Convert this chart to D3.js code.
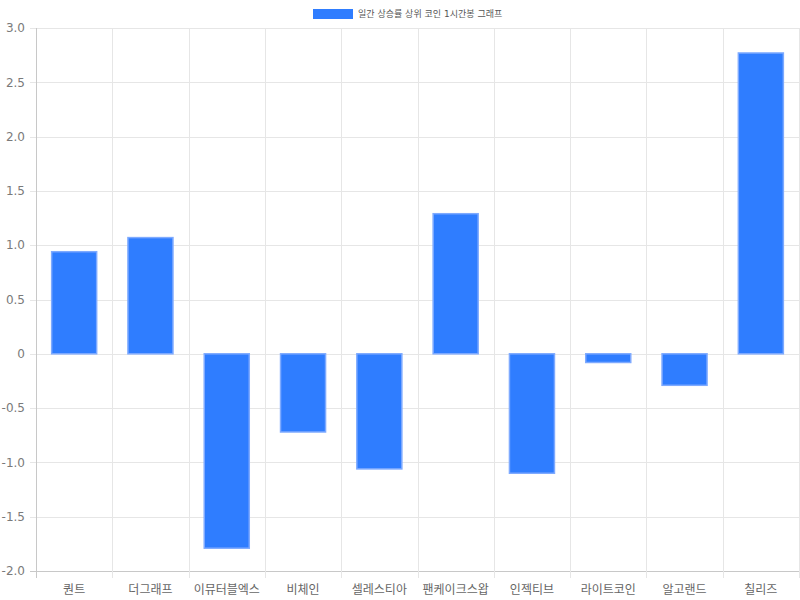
<!DOCTYPE html>
<html lang="ko">
<head>
<meta charset="utf-8">
<script src="https://cdn.jsdelivr.net/npm/d3@7"></script>
<style>
body { margin: 0; background: #fff; }
text { font-family: "DejaVu Sans", "Noto Sans CJK KR", sans-serif; fill: #666; }
</style>
</head>
<body>
<svg id="chart" width="800" height="600"></svg>
<script>
// data
var coins = ["퀀트", "더그래프", "이뮤터블엑스", "비체인", "셀레스티아", "팬케이크스왑", "인젝티브", "라이트코인", "알고랜드", "칠리즈"];
var changes = [0.94, 1.07, -1.79, -0.72, -1.06, 1.29, -1.10, -0.08, -0.29, 2.77];
var yTicks = [-2.0, -1.5, -1.0, -0.5, 0, 0.5, 1.0, 1.5, 2.0, 2.5, 3.0];
var seriesName = "일간 상승률 상위 코인 1시간봉 그래프";

var svg = d3.select("#chart");
var plotLeft = 36, plotRight = 799, plotTop = 28, plotBottom = 571;

var x = d3.scaleBand().domain(coins).range([plotLeft, plotRight]).paddingInner(0).paddingOuter(0);
var y = d3.scaleLinear().domain([-2, 3]).range([plotBottom, plotTop]);

// grid
var grid = svg.append("g");
grid.selectAll("line.h").data(yTicks).enter().append("line")
  .attr("x1", plotLeft - 6).attr("x2", plotRight)
  .attr("y1", function(d) { return Math.round(y(d)) + 0.5; })
  .attr("y2", function(d) { return Math.round(y(d)) + 0.5; })
  .attr("stroke", function(d) { return d === -2 ? "#c8c8c8" : "#e6e6e6"; });

var vx = coins.map(function(c) { return x(c); }).concat([plotRight]);
grid.selectAll("line.v").data(vx).enter().append("line")
  .attr("x1", function(d) { return Math.round(d) + 0.5; })
  .attr("x2", function(d) { return Math.round(d) + 0.5; })
  .attr("y1", plotTop).attr("y2", plotBottom + 7)
  .attr("stroke", function(d, i) { return i === 0 ? "#c8c8c8" : "#e6e6e6"; });

// y labels
svg.append("g").selectAll("text").data(yTicks).enter().append("text")
  .attr("x", 25).attr("y", function(d) { return y(d); })
  .attr("dy", "0.35em").attr("text-anchor", "end")
  .style("font-size", "12px").style("fill", "#7a7a7a")
  .text(function(d) { return d === 0 ? "0" : d3.format(".1f")(d).replace("−", "-"); });

// x labels
svg.append("g").selectAll("text").data(coins).enter().append("text")
  .attr("x", function(d) { return x(d) + x.bandwidth() / 2; })
  .attr("y", 590).attr("dy", "0.35em").attr("text-anchor", "middle")
  .style("font-size", "12px")
  .text(function(d) { return d; });

// bars
var bw = x.bandwidth() * 0.59;
svg.append("g").selectAll("rect").data(changes).enter().append("rect")
  .attr("x", function(d, i) { return x(coins[i]) + (x.bandwidth() - bw) / 2; })
  .attr("width", bw)
  .attr("y", function(d) { return Math.min(y(d), y(0)); })
  .attr("height", function(d) { return Math.abs(y(d) - y(0)); })
  .attr("fill", "#2f7dff")
  .attr("stroke", "#7eaaff")
  .attr("stroke-width", 1.5);

// legend
var lg = svg.append("g");
lg.append("rect").attr("x", 313).attr("y", 9).attr("width", 40).attr("height", 10)
  .attr("fill", "#2f7dff");
lg.append("text").attr("x", 358).attr("y", 14).attr("dy", "0.35em")
  .style("font-size", "9px").style("fill", "#555")
  .text(seriesName);
</script>
</body>
</html>
